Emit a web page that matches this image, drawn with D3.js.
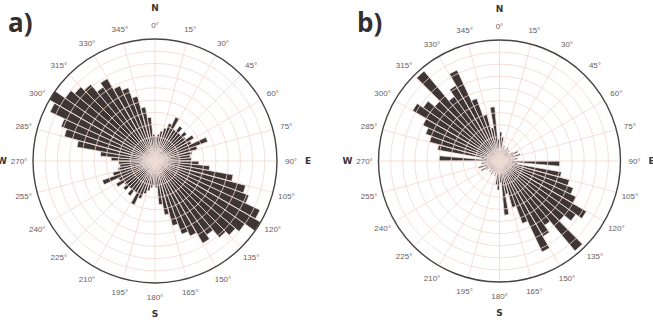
<!DOCTYPE html>
<html>
<head>
<meta charset="utf-8">
<script src="https://cdn.jsdelivr.net/npm/d3@7"></script>
<style>
  body { margin: 0; background: #fff; }
  svg { display: block; }
</style>
</head>
<body>
<svg id="roses" width="653" height="321"></svg>
<script>
// bin start angles (deg), 5 deg bins, axial data so each bin is also drawn at +180
var binStart = [0, 5, 10, 15, 20, 25, 30, 35, 40, 45, 50, 55, 60, 65, 70, 75, 80, 85,
  90, 95, 100, 105, 110, 115, 120, 125, 130, 135, 140, 145, 150, 155, 160, 165, 170, 175];

// relative frequency (1 = outer circle)
var freqA = [0.20, 0.22, 0.25, 0.28, 0.33, 0.40, 0.30, 0.35, 0.30, 0.34, 0.31, 0.37, 0.33, 0.46, 0.36, 0.31, 0.29, 0.30,
  0.36, 0.45, 0.65, 0.77, 0.82, 0.95, 1.00, 0.90, 0.86, 0.82, 0.74, 0.78, 0.68, 0.64, 0.55, 0.45, 0.36, 0.22];

var freqB = [0.24, 0.20, 0.10, 0.13, 0.09, 0.11, 0.13, 0.10, 0.12, 0.10, 0.09, 0.13, 0.17, 0.12, 0.18, 0.10, 0.15, 0.12,
  0.50, 0.15, 0.52, 0.60, 0.65, 0.70, 0.83, 0.77, 0.70, 0.97, 0.65, 0.72, 0.83, 0.55, 0.40, 0.28, 0.45, 0.18];

var tickDeg = [0, 15, 30, 45, 60, 75, 90, 105, 120, 135, 150, 165, 180, 195, 210, 225, 240, 255, 270, 285, 300, 315, 330, 345];
var tickText = ["0°", "15°", "30°", "45°", "60°", "75°", "90°", "105°", "120°", "135°", "150°", "165°",
  "180°", "195°", "210°", "225°", "240°", "255°", "270°", "285°", "300°", "315°", "330°", "345°"];
var ringVals = [0.1, 0.2, 0.3, 0.4, 0.5, 0.6, 0.7, 0.8, 0.9];
var compass = [{t: "N", a: 0}, {t: "E", a: 90}, {t: "S", a: 180}, {t: "W", a: 270}];

var svg = d3.select("#roses");

drawRose(svg, 155, 161, 122, freqA, "a)", 8);
drawRose(svg, 499.5, 161, 121, freqB, "b)", 357);

function drawRose(svg, cx, cy, R, freq, tag, tagX) {
  var rad = d3.scaleLinear().domain([0, 1]).range([0, R]);
  var g = svg.append("g").attr("transform", "translate(" + cx + "," + cy + ")");

  // both halves of the axial rose
  var bins = [];
  for (var i = 0; i < binStart.length; i++) {
    bins.push({a: binStart[i], v: freq[i]});
    bins.push({a: binStart[i] + 180, v: freq[i]});
  }

  var arc = d3.arc()
    .innerRadius(0)
    .outerRadius(function(d) { return rad(d.v); })
    .startAngle(function(d) { return d.a * Math.PI / 180; })
    .endAngle(function(d) { return (d.a + 5) * Math.PI / 180; });

  g.selectAll("path.bar").data(bins).enter().append("path")
    .attr("class", "bar")
    .attr("d", arc)
    .attr("fill", "#3e3535")
    .attr("stroke", "#f6ebe8")
    .attr("stroke-width", 0.75);

  // grid on top of the bars
  g.selectAll("circle.ring").data(ringVals).enter().append("circle")
    .attr("class", "ring")
    .attr("r", function(d) { return rad(d); })
    .attr("fill", "none")
    .attr("stroke", "#f1d8ce")
    .attr("stroke-width", 0.8);

  g.selectAll("line.spoke").data(tickDeg).enter().append("line")
    .attr("class", "spoke")
    .attr("x1", 0).attr("y1", 0)
    .attr("x2", function(d) { return rad(1) * Math.sin(d * Math.PI / 180); })
    .attr("y2", function(d) { return -rad(1) * Math.cos(d * Math.PI / 180); })
    .attr("stroke", "#f1d8ce")
    .attr("stroke-width", 0.8);

  g.append("circle")
    .attr("r", rad(1))
    .attr("fill", "none")
    .attr("stroke", "#4a4343")
    .attr("stroke-width", 1.4);

  g.selectAll("text.tick").data(tickDeg).enter().append("text")
    .attr("class", "tick")
    .attr("x", function(d) { return (R + 14) * Math.sin(d * Math.PI / 180); })
    .attr("y", function(d) { return -(R + 14) * Math.cos(d * Math.PI / 180); })
    .attr("dy", "0.35em")
    .attr("text-anchor", "middle")
    .attr("font-family", "Liberation Sans, Arial, sans-serif")
    .attr("font-size", 8)
    .attr("fill", "#6a6060")
    .text(function(d, i) { return tickText[i]; });

  // N E S W (W and E sit right at the page edges, as in the source)
  g.selectAll("text.dir").data(compass).enter().append("text")
    .attr("class", "dir")
    .attr("x", function(d) { return (R + 31) * Math.sin(d.a * Math.PI / 180); })
    .attr("y", function(d) { return -(R + 31) * Math.cos(d.a * Math.PI / 180); })
    .attr("dy", "0.35em")
    .attr("text-anchor", "middle")
    .attr("font-family", "DejaVu Sans, sans-serif")
    .attr("font-weight", "bold")
    .attr("font-size", 9)
    .attr("fill", "#3a3434")
    .text(function(d) { return d.t; });

  svg.append("text")
    .attr("x", tagX)
    .attr("y", 32)
    .attr("font-family", "Open Sans, Arial, sans-serif")
    .attr("font-weight", "bold")
    .attr("font-size", 26)
    .attr("fill", "#353030")
    .text(tag);
}
</script>
</body>
</html>
